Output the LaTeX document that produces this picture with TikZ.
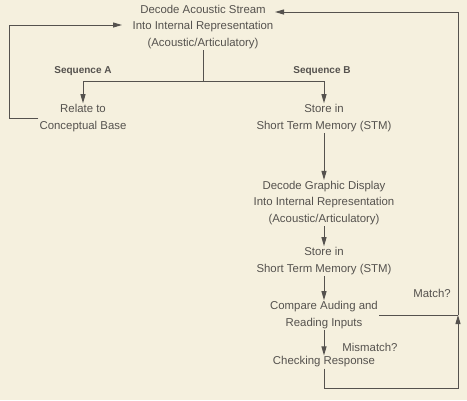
\documentclass[tikz,border=0pt]{standalone}
\usepackage{fontspec}
\setmainfont{Liberation Sans}
\usepackage{tikz}
\usetikzlibrary{arrows.meta}
\usepackage{xcolor}
\definecolor{ColPaper}{RGB}{245,240,222}
\definecolor{ColInk}{RGB}{85,82,78}
\tikzstyle{StepText}=[align=center,text=ColInk,inner sep=1pt,
font=\fontsize{11.4}{16.5}\selectfont]
\tikzstyle{SeqLabel}=[text=ColInk,inner sep=1pt,font=\fontsize{10}{12}\selectfont\bfseries]
\tikzstyle{FlowLine}=[ColInk,line width=1pt]
\tikzstyle{FlowArrow}=[FlowLine,-{Triangle[length=9pt,width=5pt]}]

\begin{document}
\begin{tikzpicture}[x=1pt,y=-1pt]
        \fill[ColPaper](0,0)rectangle(467,400);
        \useasboundingbox(0,0)rectangle(467,400);
        \node[StepText](dac)at(203,27){Decode Acoustic Stream\\Into Internal Representation\\(Acoustic/Articulatory)};
        \node[SeqLabel](seqa)at(83,71){Sequence A};
        \node[SeqLabel](seqb)at(322,71){Sequence B};
        \node[StepText](rel)at(83,118){Relate to\\Conceptual Base};
        \node[StepText](stma)at(324,118){Store in\\Short Term Memory (STM)};
        \node[StepText](dgd)at(324,203){Decode Graphic Display\\Into Internal Representation\\(Acoustic/Articulatory)};
        \node[StepText](stmb)at(324,261){Store in\\Short Term Memory (STM)};
        \node[StepText](cmp)at(324,315){Compare Auding and\\Reading Inputs};
        \node[StepText](chk)at(324,362){Checking Response};
        \node[StepText](match)at(432,293){Match?};
        \node[StepText](mis)at(370,347){Mismatch?};
        \coordinate(split)at(203,81);
        \coordinate(lin)at(122,25);
        \coordinate(rin)at(275,12);
        \coordinate(jn)at(458,315);
        \draw[FlowLine](dac.south)--(split);
        \draw[FlowArrow](split)-|(rel.north);
        \draw[FlowArrow](split)-|(stma.north);
        \draw[FlowArrow](rel.west)--++(-29,0)|-(lin);
        \draw[FlowArrow](stma.south)--(dgd.north);
        \draw[FlowArrow](dgd.south)--(stmb.north);
        \draw[FlowArrow](stmb.south)--(cmp.north);
        \draw[FlowArrow](cmp.south)--(chk.north);
        \draw[FlowLine](cmp.east)--(jn);
        \draw[FlowArrow](chk.south)--++(0,20)-|(jn);
        \draw[FlowArrow](jn)|-(rin);
    \end{tikzpicture}
\end{document}
